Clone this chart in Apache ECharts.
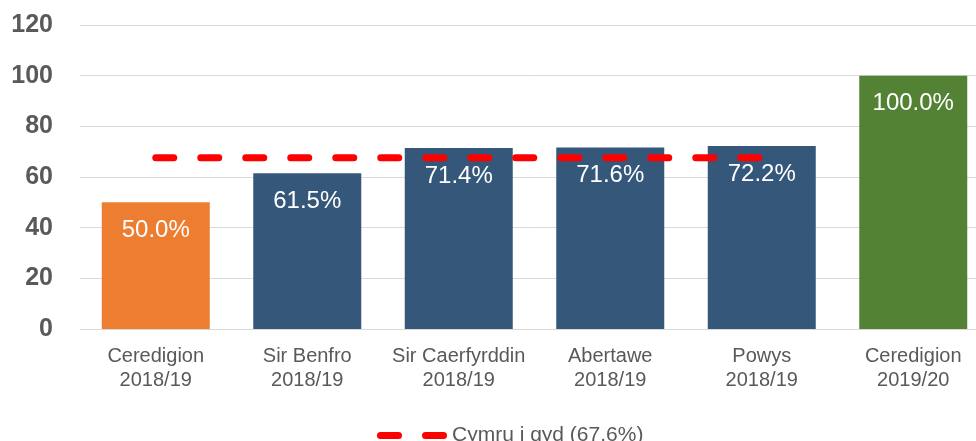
<!DOCTYPE html>
<html>
<head>
<meta charset="utf-8">
<script src="https://cdn.jsdelivr.net/npm/echarts@6/dist/echarts.min.js"></script>
<style>
  html, body { margin: 0; padding: 0; background: #ffffff; }
  #chart { width: 976px; height: 441px; }
</style>
</head>
<body>
<div id="chart"></div>
<script>
// Categories (area + year) and their rates, in percent
const categories = [
  'Ceredigion\n2018/19',
  'Sir Benfro\n2018/19',
  'Sir Caerfyrddin\n2018/19',
  'Abertawe\n2018/19',
  'Powys\n2018/19',
  'Ceredigion\n2019/20'
];
const values = [50.0, 61.5, 71.4, 71.6, 72.2, 100.0];
const barColors = ['#ED7D31', '#35577A', '#35577A', '#35577A', '#35577A', '#548235'];

// All-Wales average, drawn across the 2018/19 areas
const walesName = 'Cymru i gyd (67.6%)';
const walesAverage = [67.6, 67.6, 67.6, 67.6, 67.6, null];

const yTicks = { min: 0, max: 120, interval: 20 };

const chart = echarts.init(document.getElementById('chart'), null, { renderer: 'canvas' });

chart.setOption({
  animation: false,
  backgroundColor: '#ffffff',
  // the plot area runs a little past the right edge of the page
  grid: { left: 80, top: 25, width: 909, height: 304, containLabel: false, outerBoundsMode: 'none' },
  legend: {
    data: [{ name: walesName, icon: 'path://M3.5,0 H21.5 A3.5,3.5 0 0 1 21.5,7 H3.5 A3.5,3.5 0 0 1 3.5,0 Z M48.5,0 H66.5 A3.5,3.5 0 0 1 66.5,7 H48.5 A3.5,3.5 0 0 1 48.5,0 Z' }],
    left: 372,
    top: 420,
    itemWidth: 70,
    itemHeight: 7,
    itemGap: 8,
    textStyle: { color: '#595959', fontSize: 21, fontFamily: 'Liberation Sans, Arial, sans-serif' }
  },
  xAxis: {
    type: 'category',
    data: categories,
    axisLine: { show: true, lineStyle: { color: '#d9d9d9', width: 1 } },
    axisTick: { show: false },
    axisLabel: {
      color: '#595959',
      fontSize: 20,
      lineHeight: 24,
      margin: 15,
      fontFamily: 'Liberation Sans, Arial, sans-serif',
      interval: 0
    }
  },
  yAxis: {
    type: 'value',
    min: yTicks.min,
    max: yTicks.max,
    interval: yTicks.interval,
    axisLine: { show: false },
    axisTick: { show: false },
    splitLine: { lineStyle: { color: '#d9d9d9', width: 1 } },
    axisLabel: {
      color: '#595959',
      fontSize: 25,
      fontWeight: 'bold',
      margin: 27,
      fontFamily: 'Liberation Sans, Arial, sans-serif'
    }
  },
  series: [
    {
      type: 'bar',
      data: values.map((v, i) => ({ value: v, itemStyle: { color: barColors[i] } })),
      barWidth: 108,
      label: {
        show: true,
        position: 'insideTop',
        distance: 16,
        color: '#ffffff',
        fontSize: 24,
        fontFamily: 'Liberation Sans, Arial, sans-serif',
        formatter: p => p.value.toFixed(1) + '%'
      },
      z: 2
    },
    {
      name: walesName,
      type: 'line',
      data: walesAverage,
      symbol: 'none',
      showSymbol: false,
      connectNulls: false,
      itemStyle: { color: '#FF0000' },
      lineStyle: { color: '#FF0000', width: 7, type: [18, 27], cap: 'round' },
      z: 3
    }
  ]
});
</script>
</body>
</html>
